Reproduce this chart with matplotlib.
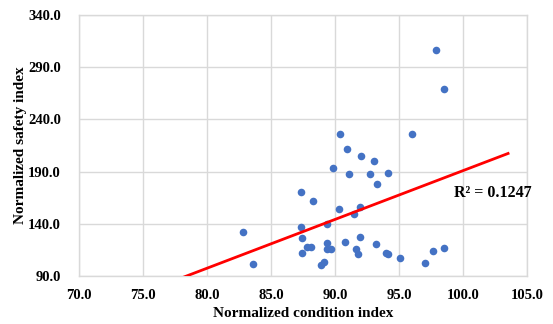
import numpy as np
import matplotlib.pyplot as plt

plt.rcParams['font.family'] = ['Liberation Serif', 'DejaVu Serif']

# data
condition = [82.8, 83.6, 87.3, 88.3, 87.3, 87.4, 87.8, 88.1, 87.4, 88.9,
             89.1, 89.4, 89.35, 89.7, 89.4, 89.8, 90.4, 90.9, 90.3, 90.8,
             91.1, 91.5, 91.9, 91.9, 92.0, 91.6, 91.8, 92.75, 93.05, 93.3,
             93.2, 94.1, 93.95, 94.15, 95.1, 96.0, 97.0, 97.65, 98.5, 97.85,
             98.5]
safety = [131.9, 101.5, 170.2, 161.4, 136.6, 126.4, 117.5, 117.5, 112.0, 101.0,
          103.7, 121.3, 115.4, 115.4, 139.8, 193.2, 225.7, 211.4, 154.4, 122.6,
          187.7, 149.4, 156.4, 127.8, 204.9, 115.6, 111.1, 187.7, 200.2, 178.1,
          120.2, 188.9, 112.0, 110.8, 107.0, 225.7, 102.5, 114.2, 116.8, 306.0,
          269.6]
r2_label = "R² = 0.1247"

x_ticks = np.arange(70, 105.1, 5)
y_ticks = np.arange(90, 340.1, 50)

fig = plt.figure(figsize=(5.53, 3.24), dpi=100)
ax = fig.add_axes([0.1429, 0.1481, 0.8106, 0.8056])

ax.scatter(condition, safety, s=30, color='#4472C4', zorder=3, linewidths=0)

# linear trendline, extended 5 units each way like the Excel forecast
x = np.array(condition)
y = np.array(safety)
k, b = np.polyfit(x, y, 1)
xt = np.array([x.min() - 5, x.max() + 5])
ax.plot(xt, k * xt + b, color='#FF0000', linewidth=2, zorder=4)

ax.text(99.25, 169.5, r2_label, fontsize=11.5, fontweight='bold', va='center', ha='left')

ax.set_xlim(70, 105)
ax.set_ylim(90, 340)
ax.set_xticks(x_ticks)
ax.set_yticks(y_ticks)
ax.set_xticklabels([f"{v:.1f}" for v in x_ticks], fontsize=10.5, fontweight='bold')
ax.set_yticklabels([f"{v:.1f}" for v in y_ticks], fontsize=10.5, fontweight='bold')
ax.tick_params(length=0, pad=9)
ax.tick_params(axis='y', pad=13)

ax.grid(True, color='#D9D9D9', linewidth=1)
ax.set_axisbelow(True)
for sp in ax.spines.values():
    sp.set_color('#D9D9D9')
    sp.set_linewidth(1)

ax.set_xlabel("Normalized condition index", fontsize=11, fontweight='bold', labelpad=4)
ax.set_ylabel("Normalized safety index", fontsize=11, fontweight='bold', labelpad=1)

fig.savefig("out.png", dpi=100)
